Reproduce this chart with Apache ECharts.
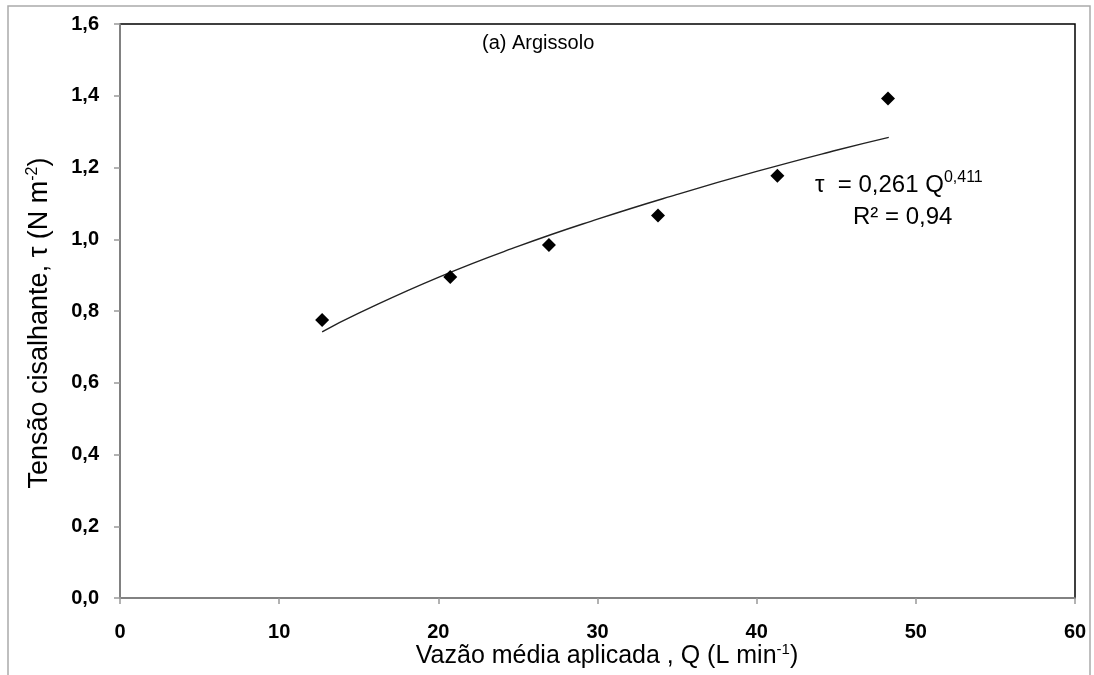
<!DOCTYPE html>
<html>
<head>
<meta charset="utf-8">
<script src="https://cdn.jsdelivr.net/npm/echarts@6/dist/echarts.min.js"></script>
<style>
html,body{margin:0;padding:0;background:#fff;}
#c{width:1094px;height:675px;}
</style>
</head>
<body>
<div id="c"></div>
<script>
// Observed data (Q in L/min, tau in N/m2)
const obsQ = [12.7, 20.75, 26.95, 33.8, 41.3, 48.25];
const obsTau = [0.775, 0.895, 0.984, 1.066, 1.177, 1.392];
// Trend curve
const fitQ = [12.7, 15, 20, 25, 30, 35, 40, 45, 48.3];
const fitTau = [0.742, 0.794, 0.894, 0.980, 1.056, 1.125, 1.189, 1.248, 1.284];
const xTicks = [0, 10, 20, 30, 40, 50, 60];
const yTicks = [0, 0.2, 0.4, 0.6, 0.8, 1.0, 1.2, 1.4, 1.6];
const xTitle = 'Vazão média aplicada , Q (L min{s|-1})';
const yTitle = 'Tensão cisalhante, τ (N m{s|-2})';

const FONT = '"Liberation Sans", Arial, sans-serif';
const chart = echarts.init(document.getElementById('c'));
chart.setOption({
  backgroundColor: '#fff',
  animation: false,
  textStyle: {fontFamily: FONT},
  grid: {left: 120, right: 19, top: 24, bottom: 77, show: true, borderColor: '#000', borderWidth: 1.5, backgroundColor: 'transparent'},
  xAxis: {
    type: 'value', min: xTicks[0], max: xTicks[xTicks.length - 1], interval: 10,
    axisLine: {show: true, onZero: false, lineStyle: {color: '#999', width: 1.5}},
    axisTick: {show: true, length: 6, lineStyle: {color: '#999', width: 1.5}},
    splitLine: {show: false},
    axisLabel: {color: '#000', fontWeight: 'bold', fontSize: 20, margin: 24, fontFamily: FONT}
  },
  yAxis: {
    type: 'value', min: yTicks[0], max: yTicks[yTicks.length - 1], interval: 0.2,
    axisLine: {show: true, onZero: false, lineStyle: {color: '#999', width: 1.5}},
    axisTick: {show: true, length: 6, lineStyle: {color: '#999', width: 1.5}},
    splitLine: {show: false},
    axisLabel: {color: '#000', fontWeight: 'bold', fontSize: 20, margin: 21, fontFamily: FONT,
      formatter: v => v.toFixed(1).replace('.', ',')}
  },
  series: [
    {
      type: 'line', data: fitQ.map((q, i) => [q, fitTau[i]]),
      smooth: true, showSymbol: false, symbol: 'none',
      lineStyle: {color: '#222', width: 1.4}, z: 2
    },
    {
      type: 'scatter', data: obsQ.map((q, i) => [q, obsTau[i]]),
      symbol: 'diamond', symbolSize: 14, itemStyle: {color: '#000', opacity: 1}, z: 3
    }
  ],
  graphic: [
    {type: 'rect', shape: {x: 8, y: 6, width: 1082, height: 700}, style: {fill: 'none', stroke: '#aaa', lineWidth: 1.5}, silent: true},
    {type: 'text', x: 607, y: 656, style: {
      text: xTitle, fontSize: 25, fontFamily: FONT, fill: '#000', align: 'center', verticalAlign: 'middle',
      rich: {s: {fontSize: 15, padding: [0, 0, 13, 0], fontFamily: FONT, fill: '#000'}}}},
    {type: 'text', x: 40, y: 323, rotation: Math.PI / 2, style: {
      text: yTitle, fontSize: 27, fontFamily: FONT, fill: '#000', align: 'center', verticalAlign: 'middle',
      rich: {s: {fontSize: 16, padding: [0, 0, 14, 0], fontFamily: FONT, fill: '#000'}}}},
    {type: 'text', left: 482, top: 33, style: {text: '(a) Argissolo', fontSize: 20, fontFamily: FONT, fill: '#000'}},
    {type: 'text', left: 815, top: 170, style: {
      text: 'τ  = 0,261 Q{s|0,411}', fontSize: 24, fontFamily: FONT, fill: '#000',
      rich: {s: {fontSize: 16, padding: [0, 0, 14, 0], fontFamily: FONT, fill: '#000'}}}},
    {type: 'text', left: 853, top: 205, style: {text: 'R² = 0,94', fontSize: 24, fontFamily: FONT, fill: '#000'}}
  ]
});
</script>
</body>
</html>
